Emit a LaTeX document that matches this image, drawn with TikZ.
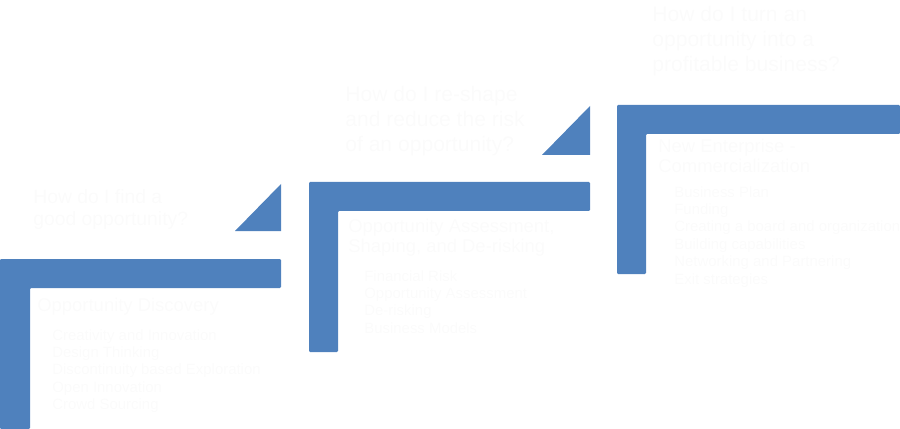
\documentclass[tikz,border=0pt]{standalone}
\usepackage{fontspec}
\setmainfont{Liberation Sans}
\usepackage{tikz}
\usetikzlibrary{positioning,calc}
\usepackage{xcolor}
\definecolor{stepblue}{HTML}{4F81BD}
\definecolor{fainttext}{HTML}{FBFBFB}
\tikzset{
  stepbar/.style={fill=stepblue,draw=none,rounded corners=0.6pt},
  stepmark/.style={fill=stepblue,draw=none},
  question/.style={anchor=north west,inner sep=0pt,align=left,text=fainttext,
    font=\fontsize{12}{14.3}\selectfont},
  heading/.style={anchor=north west,inner sep=0pt,align=left,text=fainttext,
    font=\fontsize{10.5}{11.4}\selectfont},
  items/.style={anchor=north west,inner sep=0pt,align=left,text=fainttext,
    font=\fontsize{8.5}{9.9}\selectfont},
}

\begin{document}
\begin{tikzpicture}[x=0.02cm,y=-0.02cm]
\useasboundingbox (0,0) rectangle (900,429);

% step one
\fill[stepbar] (0,259) -- (281,259) -- (281,288) -- (30,288) -- (30,429) -- (0,429) -- cycle;
\fill[stepmark] (235,231) -- (281,184) -- (281,231) -- cycle;
\node[question,font=\fontsize{11}{12.6}\selectfont] (q1) at (33,189) {How do I find a\\good opportunity?};
\node[heading] (h1) at (37,298) {Opportunity Discovery};
\node[items] (i1) at (52,329) {Creativity and Innovation\\Design Thinking\\Discontinuity based Exploration\\Open Innovation\\Crowd Sourcing};

% step two
\fill[stepbar] (309,182) -- (590,182) -- (590,211) -- (338,211) -- (338,352) -- (309,352) -- cycle;
\fill[stepmark] (542,155) -- (590,106) -- (590,155) -- cycle;
\node[question] (q2) at (345,86) {How do I re-shape\\and reduce the risk\\of an opportunity?};
\node[heading] (h2) at (348,219) {Opportunity Assessment,\\Shaping, and De-risking};
\node[items] (i2) at (364,270) {Financial Risk\\Opportunity Assessment\\De-risking\\Business Models};

% step three
\fill[stepbar] (617,105) -- (900,105) -- (900,134) -- (646,134) -- (646,274) -- (617,274) -- cycle;
\node[question] (q3) at (652,6) {How do I turn an\\opportunity into a\\profitable business?};
\node[heading] (h3) at (658,139) {New Enterprise -\\Commercialization};
\node[items] (i3) at (674,186) {Business Plan\\Funding\\Creating a board and organization\\Building capabilities\\Networking and Partnering\\Exit strategies};

\end{tikzpicture}
\end{document}
